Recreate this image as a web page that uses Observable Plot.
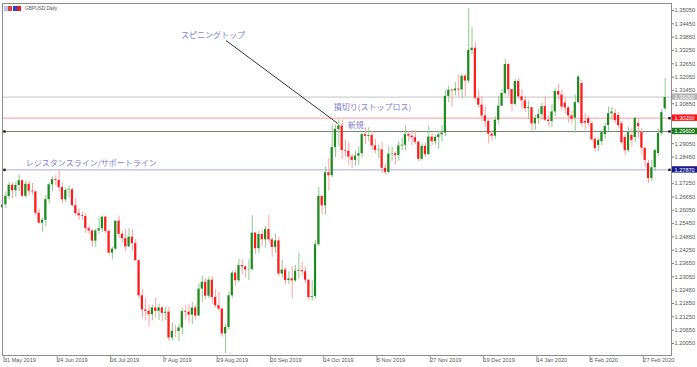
<!DOCTYPE html>
<html><head><meta charset="utf-8">
<script src="https://cdn.jsdelivr.net/npm/d3@7"></script>
<script src="https://cdn.jsdelivr.net/npm/@observablehq/plot@0.6"></script>
<style>
body{margin:0;background:#fff;}
#wrap{position:relative;width:697px;height:367px;overflow:hidden;}
#title{position:absolute;left:25px;top:6px;font:4.8px "Liberation Sans",Arial,sans-serif;color:#555;white-space:nowrap;}
#icon{position:absolute;left:4px;top:6px;height:5px;display:flex;gap:1px;}
#icon span{display:block;width:8px;height:5px;}
</style></head>
<body><div id="wrap"><div id="chart"></div>
<div id="icon"><span style="background:linear-gradient(90deg,#b7c4ee 50%,#e04040 50%)"></span><span style="background:linear-gradient(90deg,#2b45c8 55%,#e02020 55%)"></span></div>
<div id="title">GBPUSD,Daily</div></div>
<script>
// ---- data (daily candles, 31 May 2019 .. 9 Mar 2020, bar index 0..199) ----
const opens = [
1.2616,1.2630,1.2667,1.2718,1.2693,1.2717,1.2738,1.2668,1.2722,1.2691,
1.2688,1.2592,1.2547,1.2560,1.2653,1.2720,1.2743,1.2739,1.2708,1.2652,
1.2695,1.2697,1.2626,1.2590,1.2580,1.2577,1.2522,1.2512,1.2466,1.2512,
1.2522,1.2574,1.2510,1.2412,1.2430,1.2556,1.2497,1.2477,1.2440,1.2484,
1.2455,1.2378,1.2220,1.2156,1.2150,1.2135,1.2165,1.2150,1.2165,1.2141,
1.2146,1.2030,1.2060,1.2059,1.2075,1.2149,1.2146,1.2133,1.2165,1.2129,
1.2250,1.2281,1.2218,1.2290,1.2212,1.2175,1.2160,1.2048,1.2077,1.2220,
1.2322,1.2288,1.2356,1.2350,1.2337,1.2338,1.2502,1.2432,1.2496,1.2472,
1.2518,1.2472,1.2438,1.2467,1.2318,1.2336,1.2289,1.2296,1.2287,1.2330,
1.2333,1.2328,1.2290,1.2212,1.2216,1.2450,1.2668,1.2625,1.2774,1.2761,
1.2888,1.2969,1.2985,1.2874,1.2871,1.2845,1.2830,1.2849,1.2860,1.2946,
1.2938,1.2942,1.2895,1.2875,1.2877,1.2794,1.2776,1.2858,1.2859,1.2852,
1.2895,1.2898,1.2946,1.2939,1.2932,1.2912,1.2835,1.2893,1.2856,1.2935,
1.2914,1.2933,1.2945,1.2953,1.3118,1.3146,1.3143,1.3151,1.3147,1.3209,
1.3187,1.3325,1.3335,1.3110,1.3079,1.3030,1.3005,1.2948,1.2939,1.3011,
1.3074,1.3131,1.3262,1.3148,1.3082,1.3185,1.3116,1.3098,1.3063,1.3067,
1.2994,1.3019,1.3036,1.3072,1.3011,1.3005,1.3048,1.3140,1.3124,1.3088,
1.3066,1.3030,1.3020,1.3090,1.3176,1.3005,1.3018,1.2995,1.2925,1.2897,
1.2914,1.2946,1.2987,1.3040,1.3041,1.3032,1.2995,1.2933,1.2874,1.2942,
1.2933,1.2995,1.2955,1.2883,1.2816,1.2748,1.2797,1.2861,1.2951,1.3062];
const highs = [
1.2645,1.2687,1.2732,1.2729,1.2731,1.2764,1.2743,1.2735,1.2736,1.2726,
1.2694,1.2610,1.2570,1.2672,1.2728,1.2756,1.2760,1.2784,1.2727,1.2706,
1.2716,1.2705,1.2660,1.2611,1.2597,1.2590,1.2535,1.2518,1.2520,1.2575,
1.2580,1.2578,1.2517,1.2439,1.2557,1.2579,1.2509,1.2519,1.2522,1.2518,
1.2474,1.2380,1.2249,1.2208,1.2179,1.2178,1.2210,1.2183,1.2171,1.2170,
1.2168,1.2096,1.2088,1.2093,1.2166,1.2175,1.2179,1.2189,1.2178,1.2274,
1.2310,1.2298,1.2305,1.2306,1.2248,1.2238,1.2165,1.2091,1.2236,1.2331,
1.2334,1.2385,1.2383,1.2352,1.2381,1.2582,1.2504,1.2510,1.2515,1.2532,
1.2582,1.2481,1.2498,1.2482,1.2380,1.2348,1.2330,1.2350,1.2357,1.2412,
1.2371,1.2350,1.2295,1.2287,1.2468,1.2708,1.2670,1.2800,1.2840,1.2989,
1.2988,1.3013,1.3011,1.2920,1.2909,1.2857,1.2870,1.2890,1.2953,1.2976,
1.2977,1.2960,1.2925,1.2899,1.2910,1.2813,1.2893,1.2890,1.2867,1.2913,
1.2929,1.2985,1.2962,1.2965,1.2964,1.2917,1.2904,1.2908,1.2985,1.2953,
1.2944,1.2961,1.2987,1.3145,1.3164,1.3150,1.3182,1.3215,1.3215,1.3215,
1.3514,1.3427,1.3360,1.3145,1.3117,1.3070,1.3012,1.2964,1.3027,1.3118,
1.3149,1.3284,1.3266,1.3152,1.3195,1.3200,1.3148,1.3118,1.3097,1.3069,
1.3033,1.3060,1.3088,1.3118,1.3029,1.3080,1.3152,1.3173,1.3150,1.3113,
1.3073,1.3050,1.3124,1.3212,1.3190,1.3040,1.3030,1.3005,1.2935,1.2930,
1.2965,1.2998,1.3070,1.3068,1.3060,1.3045,1.3005,1.2945,1.2980,1.2975,
1.3025,1.3020,1.2975,1.2890,1.2830,1.2830,1.2880,1.2970,1.3060,1.3200];
const lows = [
1.2582,1.2613,1.2652,1.2657,1.2664,1.2690,1.2661,1.2660,1.2668,1.2672,
1.2580,1.2543,1.2506,1.2531,1.2634,1.2690,1.2715,1.2688,1.2633,1.2640,
1.2660,1.2619,1.2580,1.2559,1.2559,1.2500,1.2496,1.2440,1.2439,1.2496,
1.2506,1.2499,1.2403,1.2381,1.2423,1.2478,1.2459,1.2418,1.2439,1.2421,
1.2377,1.2209,1.2119,1.2107,1.2080,1.2107,1.2118,1.2109,1.2104,1.2108,
1.2014,1.2015,1.2031,1.2014,1.2045,1.2112,1.2096,1.2091,1.2110,1.2128,
1.2191,1.2201,1.2208,1.2182,1.2165,1.2150,1.2033,1.1959,1.2065,1.2208,
1.2262,1.2278,1.2313,1.2300,1.2289,1.2330,1.2405,1.2410,1.2440,1.2435,
1.2461,1.2392,1.2412,1.2306,1.2300,1.2269,1.2270,1.2205,1.2280,1.2295,
1.2310,1.2275,1.2196,1.2195,1.2205,1.2441,1.2585,1.2583,1.2691,1.2750,
1.2843,1.2893,1.2833,1.2843,1.2809,1.2794,1.2804,1.2807,1.2840,1.2901,
1.2914,1.2873,1.2861,1.2838,1.2771,1.2767,1.2768,1.2825,1.2808,1.2826,
1.2874,1.2873,1.2914,1.2895,1.2902,1.2823,1.2827,1.2843,1.2853,1.2896,
1.2898,1.2880,1.2912,1.2938,1.3090,1.3069,1.3120,1.3112,1.3107,1.3116,
1.3176,1.3305,1.3098,1.3063,1.3004,1.2978,1.2904,1.2917,1.2925,1.2990,
1.3071,1.3121,1.3115,1.3050,1.3076,1.3103,1.3058,1.3046,1.3012,1.2961,
1.2964,1.2991,1.3011,1.3005,1.2981,1.2977,1.3026,1.3099,1.3052,1.3040,
1.2998,1.2992,1.2953,1.3085,1.2980,1.2966,1.2980,1.2915,1.2870,1.2870,
1.2895,1.2925,1.2960,1.3010,1.2995,1.2975,1.2900,1.2852,1.2865,1.2890,
1.2910,1.2930,1.2854,1.2798,1.2726,1.2735,1.2780,1.2850,1.2940,1.3055];
const closes = [
1.2629,1.2668,1.2718,1.2693,1.2717,1.2738,1.2668,1.2722,1.2691,1.2688,
1.2592,1.2547,1.2560,1.2653,1.2720,1.2743,1.2739,1.2708,1.2652,1.2695,
1.2697,1.2626,1.2590,1.2580,1.2577,1.2522,1.2512,1.2466,1.2512,1.2522,
1.2574,1.2510,1.2412,1.2430,1.2556,1.2497,1.2477,1.2440,1.2484,1.2455,
1.2378,1.2220,1.2156,1.2150,1.2135,1.2165,1.2150,1.2165,1.2141,1.2146,
1.2030,1.2060,1.2059,1.2075,1.2149,1.2146,1.2133,1.2165,1.2129,1.2250,
1.2281,1.2218,1.2290,1.2212,1.2175,1.2160,1.2048,1.2077,1.2220,1.2322,
1.2288,1.2356,1.2350,1.2337,1.2338,1.2502,1.2432,1.2496,1.2472,1.2518,
1.2472,1.2438,1.2467,1.2318,1.2336,1.2289,1.2296,1.2287,1.2330,1.2333,
1.2328,1.2290,1.2212,1.2216,1.2450,1.2668,1.2625,1.2774,1.2761,1.2888,
1.2969,1.2985,1.2874,1.2871,1.2845,1.2830,1.2849,1.2860,1.2946,1.2938,
1.2942,1.2895,1.2875,1.2877,1.2794,1.2776,1.2858,1.2859,1.2852,1.2895,
1.2898,1.2946,1.2939,1.2932,1.2912,1.2835,1.2893,1.2856,1.2935,1.2914,
1.2933,1.2945,1.2953,1.3118,1.3146,1.3143,1.3151,1.3147,1.3209,1.3187,
1.3325,1.3335,1.3110,1.3079,1.3030,1.3005,1.2948,1.2939,1.3011,1.3074,
1.3131,1.3262,1.3148,1.3082,1.3185,1.3116,1.3098,1.3063,1.3067,1.2994,
1.3019,1.3036,1.3072,1.3011,1.3005,1.3048,1.3140,1.3124,1.3070,1.3066,
1.3030,1.3015,1.3090,1.3205,1.2996,1.2998,1.2996,1.2923,1.2883,1.2919,
1.2955,1.2982,1.3040,1.3048,1.3009,1.2987,1.2910,1.2874,1.2955,1.2920,
1.3019,1.2982,1.2885,1.2829,1.2748,1.2797,1.2874,1.2951,1.3045,1.3113];

const xTickIdx = [0,16,32,48,64,80,96,112,128,144,160,176,192];
const xTickLabels = ["31 May 2019","24 Jun 2019","16 Jul 2019","7 Aug 2019","29 Aug 2019","20 Sep 2019","14 Oct 2019","5 Nov 2019","27 Nov 2019","19 Dec 2019","14 Jan 2020","5 Feb 2020","27 Feb 2020"];
const yTickValues = [1.35050,1.34450,1.33850,1.33250,1.32650,1.32050,1.31450,1.30850,1.30250,1.29650,1.29050,1.28450,1.27850,1.27250,1.26650,1.26050,1.25450,1.24850,1.24250,1.23650,1.23050,1.22450,1.21850,1.21250,1.20650,1.20050];

// horizontal levels: current price, stop loss, entry, resistance/support
const levelPrices = [1.3115, 1.3020, 1.2960, 1.2787];
const levelLabels = ["1.31150", "1.30200", "1.29600", "1.27870"];

// annotations (bar index, price)
const noteTexts = ["スピニングトップ", "損切り(ストップロス)", "新規", "レジスタンスライン/サポートライン"];
const noteIdx = [53.6, 99.5, 103.7, 7.0];
const notePrices = [1.3392, 1.3068, 1.2987, 1.2816];
const pointerIdx = [67.1, 100.7];
const pointerPrices = [1.3370, 1.2996];

// ---- styles ----
const GREEN = "#1f8a1f", RED = "#ff1a1a";
const GREEN_WICK = "#8fca8f", RED_WICK = "#ffa0a0";
const lineColors = ["#c4c4c4", "#ff9a9a", "#6f8a6f", "#a9a9e6"];
const boxColors = ["#b4b4b4", "#ff1010", "#1f7a1f", "#1c1c8c"];
const NOTE = "#7d7dd6";
const xDomain = [0, 200.9];

const bars = opens.map((o, i) => ({i, o, h: highs[i], l: lows[i], c: closes[i]}));
const upBars = bars.filter(d => d.c >= d.o);
const dnBars = bars.filter(d => d.c < d.o);
const bodyTop = d => Math.abs(d.c - d.o) < 0.00004 ? d.o + 0.00005 : d.c;
const labelOf = new Map(xTickIdx.map((d, k) => [d, xTickLabels[k]]));

const levelMarks = [];
levelPrices.forEach((p, k) => {
  levelMarks.push(Plot.ruleY([p], {stroke: lineColors[k], strokeWidth: 1}));
});
const boxMarks = [];
levelPrices.forEach((p, k) => {
  boxMarks.push(Plot.rect([p], {x1: () => xDomain[1], x2: () => xDomain[1], y1: d => d, y2: d => d,
    insetLeft: 1, insetRight: -26, insetTop: -3.2, insetBottom: -3.2, fill: boxColors[k]}));
  boxMarks.push(Plot.text([p], {x: () => xDomain[1], y: d => d, text: () => levelLabels[k], dx: 3, textAnchor: "start",
    fill: "white", fontSize: 5.6}));
});

const chart = Plot.plot({
  width: 697, height: 367,
  marginTop: 3, marginBottom: 12, marginLeft: 2, marginRight: 26,
  style: {fontFamily: '"Liberation Sans", Arial, sans-serif', background: "white", overflow: "visible"},
  x: {domain: xDomain, axis: null, label: null},
  y: {domain: [1.195095, 1.353653], axis: null, label: null},
  marks: [
    ...levelMarks,
    Plot.ruleX(upBars, {x: "i", y1: "l", y2: "h", stroke: GREEN_WICK, strokeWidth: 1}),
    Plot.ruleX(dnBars, {x: "i", y1: "l", y2: "h", stroke: RED_WICK, strokeWidth: 1}),
    Plot.rect(upBars, {x1: d => d.i - 0.33, x2: d => d.i + 0.33, y1: "o", y2: bodyTop, fill: GREEN}),
    Plot.rect(dnBars, {x1: d => d.i - 0.33, x2: d => d.i + 0.33, y1: "o", y2: "c", fill: RED}),
    Plot.frame({stroke: "#8c8c8c"}),
    Plot.axisY({anchor: "right", label: null, ticks: yTickValues, tickFormat: d => d.toFixed(5), tickSize: 2, tickPadding: 1,
      fontSize: 5.7, fill: "#555", stroke: "#777"}),
    Plot.axisX({anchor: "bottom", label: null, ticks: xTickIdx, tickFormat: d => labelOf.get(d), tickSize: 7, tickPadding: -4.5,
      textAnchor: "start", dx: 1.5, fontSize: 5.5, fill: "#555", stroke: "#999"}),
    ...boxMarks,
    Plot.dot([levelPrices[1], levelPrices[2], levelPrices[3]], {x: () => xDomain[1], y: d => d, symbol: "square", r: 1.4, fill: "#222", dx: -2}),
    Plot.dot([levelPrices[2], levelPrices[3]], {x: () => xDomain[0], y: d => d, symbol: "square", r: 1.4, fill: "#222", dx: 2}),
    Plot.link([0], {x1: () => pointerIdx[0], y1: () => pointerPrices[0], x2: () => pointerIdx[1], y2: () => pointerPrices[1],
      stroke: "#333", strokeWidth: 1}),
    Plot.text(noteTexts, {x: (d, k) => noteIdx[k], y: (d, k) => notePrices[k], text: d => d, textAnchor: "start",
      fill: NOTE, fontSize: 8, fontFamily: '"Noto Sans CJK JP", sans-serif'})
  ]
});
document.getElementById("chart").appendChild(chart);
</script>
</body></html>
